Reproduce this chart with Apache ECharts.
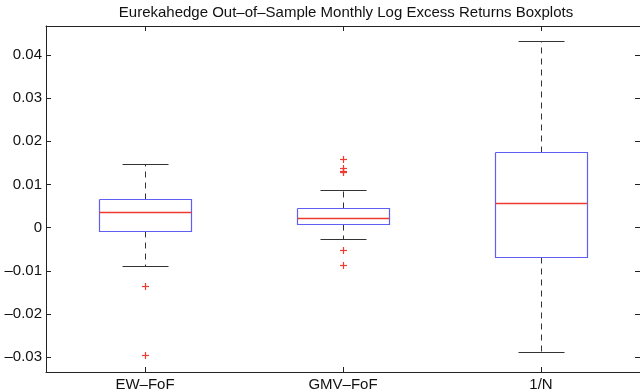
<!DOCTYPE html>
<html>
<head>
<meta charset="utf-8">
<script src="https://cdn.jsdelivr.net/npm/echarts@6/dist/echarts.min.js"></script>
<style>
html,body{margin:0;padding:0;background:#fff;}
#chart{width:640px;height:392px;}
</style>
</head>
<body>
<div id="chart"></div>
<script>
var titleText = 'Eurekahedge Out–of–Sample Monthly Log Excess Returns Boxplots';
var categories = ['EW–FoF', 'GMV–FoF', '1/N'];
var lowerWhisker = [-0.0089, -0.0028, -0.0288];
var q1 = [-0.0009, 0.0008, -0.0070];
var median = [0.0035, 0.0021, 0.0055];
var q3 = [0.0065, 0.0045, 0.0174];
var upperWhisker = [0.0147, 0.0086, 0.0431];
var outlierCategory = [0, 0, 1, 1, 1, 1, 1, 1];
var outlierValue = [-0.0135, -0.0296, 0.0157, 0.0137, 0.0130, 0.0127, -0.0053, -0.0087];
var yTickValues = [-0.03, -0.02, -0.01, 0, 0.01, 0.02, 0.03, 0.04];
var yTickLabels = ['–0.03', '–0.02', '–0.01', '0', '0.01', '0.02', '0.03', '0.04'];

var boxData = categories.map(function (c, i) {
  return [i, lowerWhisker[i], q1[i], median[i], q3[i], upperWhisker[i]];
});
var outlierData = outlierCategory.map(function (c, i) { return [c, outlierValue[i]]; });

var FONT = '"Liberation Sans", Arial, Helvetica, sans-serif';
var BOX = '#5f5ff2', MED = '#ee3b30', WHISK = '#333333', OUT = '#ee3b30';

function crisp(v) { return Math.round(v - 0.5) + 0.5; }

function seg(x1, y1, x2, y2, color, dash, w) {
  return {
    type: 'polyline',
    shape: {points: [[x1, y1], [x2, y2]]},
    style: {stroke: color, lineWidth: w || 1, fill: 'none', opacity: 1, lineDash: dash || null}
  };
}

function renderBox(params, api) {
  var i = api.value(0);
  var band = api.size([1, 0])[0];
  var pLow = api.coord([i, api.value(1)]);
  var pQ1 = api.coord([i, api.value(2)]);
  var pMed = api.coord([i, api.value(3)]);
  var pQ3 = api.coord([i, api.value(4)]);
  var pHigh = api.coord([i, api.value(5)]);
  var cx = crisp(pMed[0]);
  var hw = band * 0.23;
  var cw = band * 0.115;
  var x0 = crisp(cx - hw), x1 = crisp(cx + hw);
  var yq1 = crisp(pQ1[1]), yq3 = crisp(pQ3[1]), ym = crisp(pMed[1]);
  var yl = crisp(pLow[1]), yh = crisp(pHigh[1]);
  return {
    type: 'group',
    children: [
      seg(cx, yq3, cx, yh, WHISK, [6, 5]),
      seg(cx, yq1, cx, yl, WHISK, [6, 5]),
      seg(crisp(cx - cw), yh, crisp(cx + cw), yh, WHISK),
      seg(crisp(cx - cw), yl, crisp(cx + cw), yl, WHISK),
      {type: 'polyline', shape: {points: [[x0, yq3], [x1, yq3], [x1, yq1], [x0, yq1], [x0, yq3]]},
        style: {stroke: BOX, lineWidth: 1.2, fill: 'none', opacity: 1, lineDash: null}},
      seg(x0, ym, x1, ym, MED, null, 1.5)
    ]
  };
}

function renderOutlier(params, api) {
  var p = api.coord([api.value(0), api.value(1)]);
  var cx = crisp(p[0]), cy = crisp(p[1]);
  var s = 3.5;
  return {
    type: 'group',
    children: [
      seg(cx - s, cy, cx + s, cy, OUT, null, 1.2),
      seg(cx, cy - s, cx, cy + s, OUT, null, 1.2)
    ]
  };
}

var chart = echarts.init(document.getElementById('chart'), null, {renderer: 'canvas'});
var axisLineStyle = {color: '#222', width: 1};
chart.setOption({
  animation: false,
  backgroundColor: '#fff',
  title: {
    text: titleText,
    left: 346,
    textAlign: 'center',
    top: 5,
    padding: 0,
    textStyle: {fontFamily: FONT, fontSize: 15, fontWeight: 'normal', color: '#111'}
  },
  grid: {left: 46, right: -6, top: 26, bottom: 20, containLabel: false},
  xAxis: [{
    type: 'category',
    data: categories,
    position: 'bottom',
    boundaryGap: true,
    axisLine: {show: true, onZero: false, lineStyle: axisLineStyle},
    axisTick: {show: true, inside: true, alignWithLabel: true, length: 5, lineStyle: axisLineStyle},
    axisLabel: {fontFamily: FONT, fontSize: 15, color: '#111', margin: 5},
    splitLine: {show: false}
  }, {
    type: 'category',
    data: categories,
    position: 'top',
    boundaryGap: true,
    axisLine: {show: true, onZero: false, lineStyle: axisLineStyle},
    axisTick: {show: true, inside: true, alignWithLabel: true, length: 5, lineStyle: axisLineStyle},
    axisLabel: {show: false},
    splitLine: {show: false}
  }],
  yAxis: [{
    type: 'value',
    min: -0.0334,
    max: 0.0467,
    position: 'left',
    axisLine: {show: true, onZero: false, lineStyle: axisLineStyle},
    axisTick: {show: true, inside: true, length: 5, lineStyle: axisLineStyle, customValues: yTickValues},
    axisLabel: {
      fontFamily: FONT, fontSize: 15, color: '#111', margin: 4,
      customValues: yTickValues,
      formatter: function (v) {
        for (var k = 0; k < yTickValues.length; k++) {
          if (Math.abs(yTickValues[k] - v) < 1e-9) return yTickLabels[k];
        }
        return '';
      }
    },
    splitLine: {show: false}
  }, {
    type: 'value',
    min: -0.0334,
    max: 0.0467,
    position: 'right',
    axisLine: {show: true, onZero: false, lineStyle: axisLineStyle},
    axisTick: {show: true, inside: true, length: 5, lineStyle: axisLineStyle, customValues: yTickValues},
    axisLabel: {show: false},
    splitLine: {show: false}
  }],
  series: [{
    type: 'custom',
    xAxisIndex: 0,
    yAxisIndex: 0,
    renderItem: renderBox,
    data: boxData,
    encode: {x: 0, y: [1, 2, 3, 4, 5]},
    silent: true,
    z: 3
  }, {
    type: 'custom',
    xAxisIndex: 0,
    yAxisIndex: 0,
    renderItem: renderOutlier,
    data: outlierData,
    encode: {x: 0, y: 1},
    silent: true,
    z: 4
  }]
});
</script>
</body>
</html>
